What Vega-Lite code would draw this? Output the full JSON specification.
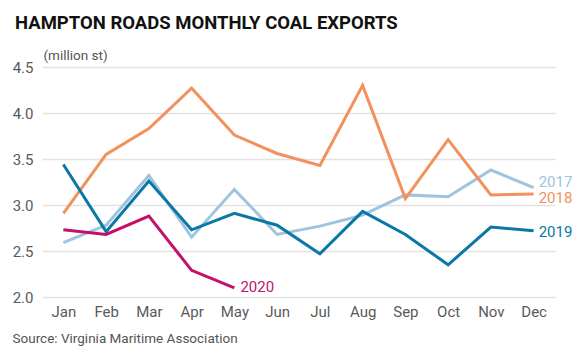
{
  "$schema": "https://vega.github.io/schema/vega-lite/v6.json",
  "width": 513,
  "height": 230,
  "autosize": {"type": "none"},
  "padding": {"left": 42, "top": 67, "right": 20, "bottom": 60},
  "background": "white",
  "title": {
    "text": "HAMPTON ROADS MONTHLY COAL EXPORTS",
    "anchor": "start",
    "frame": "group",
    "font": "Roboto",
    "fontSize": 18.5,
    "fontWeight": "bold",
    "color": "#111111",
    "dx": -27,
    "offset": 16
  },
  "config": {
    "view": {"stroke": null},
    "font": "Roboto",
    "axis": {"labelFont": "Roboto", "titleFont": "Roboto"}
  },
  "data": {
    "values": [
      {"year": "2017", "month": "Jan", "value": 2.59},
      {"year": "2017", "month": "Feb", "value": 2.78},
      {"year": "2017", "month": "Mar", "value": 3.32},
      {"year": "2017", "month": "Apr", "value": 2.65},
      {"year": "2017", "month": "May", "value": 3.17},
      {"year": "2017", "month": "Jun", "value": 2.68},
      {"year": "2017", "month": "Jul", "value": 2.77},
      {"year": "2017", "month": "Aug", "value": 2.89},
      {"year": "2017", "month": "Sep", "value": 3.11},
      {"year": "2017", "month": "Oct", "value": 3.09},
      {"year": "2017", "month": "Nov", "value": 3.38},
      {"year": "2017", "month": "Dec", "value": 3.19},
      {"year": "2018", "month": "Jan", "value": 2.91},
      {"year": "2018", "month": "Feb", "value": 3.55},
      {"year": "2018", "month": "Mar", "value": 3.83},
      {"year": "2018", "month": "Apr", "value": 4.27},
      {"year": "2018", "month": "May", "value": 3.76},
      {"year": "2018", "month": "Jun", "value": 3.56},
      {"year": "2018", "month": "Jul", "value": 3.43},
      {"year": "2018", "month": "Aug", "value": 4.30},
      {"year": "2018", "month": "Sep", "value": 3.07},
      {"year": "2018", "month": "Oct", "value": 3.71},
      {"year": "2018", "month": "Nov", "value": 3.11},
      {"year": "2018", "month": "Dec", "value": 3.12},
      {"year": "2019", "month": "Jan", "value": 3.44},
      {"year": "2019", "month": "Feb", "value": 2.71},
      {"year": "2019", "month": "Mar", "value": 3.26},
      {"year": "2019", "month": "Apr", "value": 2.73},
      {"year": "2019", "month": "May", "value": 2.91},
      {"year": "2019", "month": "Jun", "value": 2.78},
      {"year": "2019", "month": "Jul", "value": 2.47},
      {"year": "2019", "month": "Aug", "value": 2.93},
      {"year": "2019", "month": "Sep", "value": 2.68},
      {"year": "2019", "month": "Oct", "value": 2.35},
      {"year": "2019", "month": "Nov", "value": 2.76},
      {"year": "2019", "month": "Dec", "value": 2.72},
      {"year": "2020", "month": "Jan", "value": 2.73},
      {"year": "2020", "month": "Feb", "value": 2.68},
      {"year": "2020", "month": "Mar", "value": 2.88},
      {"year": "2020", "month": "Apr", "value": 2.29},
      {"year": "2020", "month": "May", "value": 2.10}
    ]
  },
  "encoding": {
    "x": {
      "field": "month",
      "type": "ordinal",
      "sort": ["Jan","Feb","Mar","Apr","May","Jun","Jul","Aug","Sep","Oct","Nov","Dec"],
      "scale": {"type": "point", "padding": 0.5, "domain": ["Jan","Feb","Mar","Apr","May","Jun","Jul","Aug","Sep","Oct","Nov","Dec"]},
      "axis": {
        "title": "Source: Virginia Maritime Association",
        "titleAnchor": "start",
        "titleAlign": "left",
        "titleBaseline": "alphabetic",
        "titleX": -30,
        "titleY": 45,
        "titleFontSize": 13.5,
        "titleFontWeight": "normal",
        "titleColor": "#555555",
        "labelAngle": 0,
        "labelFontSize": 15,
        "labelColor": "#5a5a5a",
        "labelPadding": 7,
        "domain": false,
        "ticks": false,
        "grid": false
      }
    },
    "y": {
      "field": "value",
      "type": "quantitative",
      "scale": {"domain": [2, 4.5], "nice": false, "zero": false},
      "axis": {
        "values": [2, 2.5, 3, 3.5, 4, 4.5],
        "format": ".1f",
        "title": "(million st)",
        "titleAngle": 0,
        "titleAlign": "left",
        "titleBaseline": "alphabetic",
        "titleX": 1,
        "titleY": -8,
        "titleFontSize": 13.5,
        "titleFontWeight": "normal",
        "titleColor": "#555555",
        "labelFontSize": 15,
        "labelColor": "#5a5a5a",
        "labelPadding": 9,
        "domain": false,
        "ticks": false,
        "grid": true,
        "gridColor": "#e2e2e2",
        "gridWidth": 1.5
      }
    },
    "color": {
      "field": "year",
      "type": "nominal",
      "scale": {"domain": ["2017", "2018", "2019", "2020"], "range": ["#9ec4de", "#f4905e", "#0a78a6", "#c4106a"]},
      "legend": null
    }
  },
  "layer": [
    {"mark": {"type": "line", "strokeWidth": 3, "strokeJoin": "miter"}},
    {
      "transform": [{"filter": "datum.year == '2017' && datum.month == 'Dec'"}],
      "mark": {"type": "text", "align": "left", "baseline": "middle", "dx": 5, "dy": -6, "fontSize": 15, "font": "Roboto"},
      "encoding": {"text": {"field": "year"}}
    },
    {
      "transform": [{"filter": "datum.year == '2018' && datum.month == 'Dec'"}],
      "mark": {"type": "text", "align": "left", "baseline": "middle", "dx": 5, "dy": 4, "fontSize": 15, "font": "Roboto"},
      "encoding": {"text": {"field": "year"}}
    },
    {
      "transform": [{"filter": "datum.year == '2019' && datum.month == 'Dec'"}],
      "mark": {"type": "text", "align": "left", "baseline": "middle", "dx": 5, "dy": 1, "fontSize": 15, "font": "Roboto"},
      "encoding": {"text": {"field": "year"}}
    },
    {
      "transform": [{"filter": "datum.year == '2020' && datum.month == 'May'"}],
      "mark": {"type": "text", "align": "left", "baseline": "middle", "dx": 6, "dy": -1, "fontSize": 15, "font": "Roboto"},
      "encoding": {"text": {"field": "year"}}
    }
  ]
}
